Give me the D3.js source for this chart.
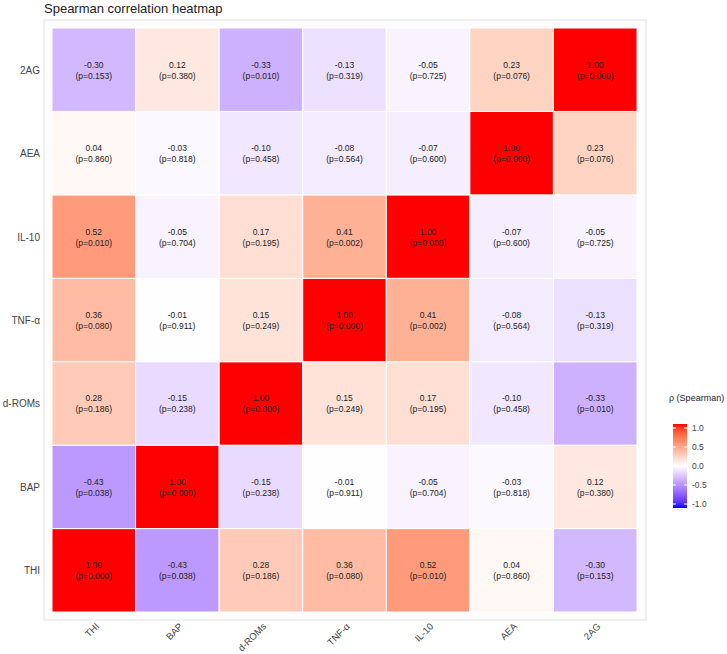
<!DOCTYPE html>
<html><head><meta charset="utf-8">
<script src="https://cdn.jsdelivr.net/npm/d3@7"></script>
<style>body{margin:0;background:#fff;font-family:"Liberation Sans",Arial,sans-serif}</style>
</head><body><div id="chart"></div>
<script>
var vars = ["THI", "BAP", "d-ROMs", "TNF-α", "IL-10", "AEA", "2AG"];
var rho = [
  [ 1.00, -0.43,  0.28,  0.36,  0.52,  0.04, -0.30],
  [-0.43,  1.00, -0.15, -0.01, -0.05, -0.03,  0.12],
  [ 0.28, -0.15,  1.00,  0.15,  0.17, -0.10, -0.33],
  [ 0.36, -0.01,  0.15,  1.00,  0.41, -0.08, -0.13],
  [ 0.52, -0.05,  0.17,  0.41,  1.00, -0.07, -0.05],
  [ 0.04, -0.03, -0.10, -0.08, -0.07,  1.00,  0.23],
  [-0.30,  0.12, -0.33, -0.13, -0.05,  0.23,  1.00]
];
var pval = [
  [0.000, 0.038, 0.186, 0.080, 0.010, 0.860, 0.153],
  [0.038, 0.000, 0.238, 0.911, 0.704, 0.818, 0.380],
  [0.186, 0.238, 0.000, 0.249, 0.195, 0.458, 0.010],
  [0.080, 0.911, 0.249, 0.000, 0.002, 0.564, 0.319],
  [0.010, 0.704, 0.195, 0.002, 0.000, 0.600, 0.725],
  [0.860, 0.818, 0.458, 0.564, 0.600, 0.000, 0.076],
  [0.153, 0.380, 0.010, 0.319, 0.725, 0.076, 0.000]
];
var legendTicks = [1.0, 0.5, 0.0, -0.5, -1.0];

var svg = d3.select("#chart").append("svg").attr("width", 727).attr("height", 654);

var x = d3.scaleBand().domain(vars).range([52, 637]);
var y = d3.scaleBand().domain(vars.slice().reverse()).range([28, 612]);
var color = function(v){
  return v < 0 ? d3.interpolateLab("#ffffff", "#0000ff")(-v) : d3.interpolateLab("#ffffff", "#ff0000")(v);
};

// panel
svg.append("rect").attr("x", 44).attr("y", 20).attr("width", 602).attr("height", 600)
   .attr("fill", "#fdfdfd").attr("stroke", "#ebebeb").attr("stroke-width", 1.5);

svg.append("text").attr("x", 44).attr("y", 13).attr("font-size", "13px").attr("fill", "#222")
   .text("Spearman correlation heatmap");

var cells = [];
vars.forEach(function(r, i){ vars.forEach(function(c, j){ cells.push({row: r, col: c, v: rho[i][j], p: pval[i][j]}); }); });

var g = svg.append("g").selectAll("g").data(cells).join("g");
g.append("rect")
  .attr("x", function(d){ return x(d.col); })
  .attr("y", function(d){ return y(d.row); })
  .attr("width", x.bandwidth()).attr("height", y.bandwidth())
  .attr("fill", function(d){ return color(d.v); })
  .attr("stroke", "#fff").attr("stroke-width", 1);
g.append("text")
  .attr("x", function(d){ return x(d.col) + x.bandwidth()/2; })
  .attr("y", function(d){ return y(d.row) + y.bandwidth()/2 - 2; })
  .attr("text-anchor", "middle").attr("font-size", "8.5px").attr("fill", "#222")
  .text(function(d){ return d.v.toFixed(2); });
g.append("text")
  .attr("x", function(d){ return x(d.col) + x.bandwidth()/2; })
  .attr("y", function(d){ return y(d.row) + y.bandwidth()/2 + 9; })
  .attr("text-anchor", "middle").attr("font-size", "8.5px").attr("fill", "#222")
  .text(function(d){ return "(p=" + d.p.toFixed(3) + ")"; });

// y labels
svg.append("g").selectAll("text").data(vars).join("text")
  .attr("x", 40).attr("y", function(d){ return y(d) + y.bandwidth()/2 + 4; })
  .attr("text-anchor", "end").attr("font-size", "10px").attr("fill", "#444").text(function(d){ return d; });

// x labels
svg.append("g").selectAll("text").data(vars).join("text")
  .attr("transform", function(d){ return "translate(" + (x(d) + x.bandwidth()/2 + 6) + ",627) rotate(-45)"; })
  .attr("text-anchor", "end").attr("font-size", "9.5px").attr("fill", "#444").text(function(d){ return d; });

// legend
var ly = d3.scaleLinear().domain([1, -1]).range([428, 504]);
var defs = svg.append("defs");
var grad = defs.append("linearGradient").attr("id", "lg").attr("x1", 0).attr("y1", 0).attr("x2", 0).attr("y2", 1);
d3.range(0, 1.001, 0.05).forEach(function(t){
  grad.append("stop").attr("offset", t).attr("stop-color", color(1 - 2*t));
});
svg.append("text").attr("x", 669).attr("y", 401).attr("font-size", "9px").attr("fill", "#222").text("ρ (Spearman)");
svg.append("rect").attr("x", 673).attr("y", 424).attr("width", 14).attr("height", 84).attr("fill", "url(#lg)");
legendTicks.forEach(function(t){
  svg.append("line").attr("x1", 673).attr("x2", 676).attr("y1", ly(t)).attr("y2", ly(t)).attr("stroke", "#fff");
  svg.append("line").attr("x1", 684).attr("x2", 687).attr("y1", ly(t)).attr("y2", ly(t)).attr("stroke", "#fff");
});
svg.append("g").selectAll("text").data(legendTicks).join("text")
  .attr("x", 692).attr("y", function(d){ return ly(d) + 3; })
  .attr("font-size", "8.5px").attr("fill", "#444").text(function(d){ return d.toFixed(1); });
</script></body></html>
